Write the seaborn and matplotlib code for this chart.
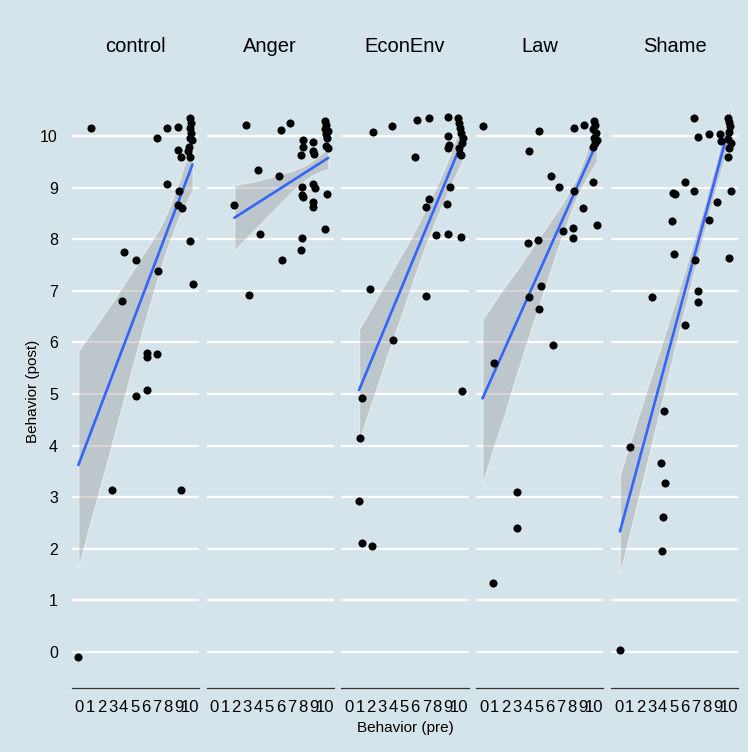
import matplotlib.pyplot as plt
import pandas as pd
import seaborn as sns
from matplotlib.collections import PolyCollection

BG = "#d5e4eb"
sns.set_style("white", {"axes.facecolor": BG, "figure.facecolor": BG,
                        "text.color": "black", "axes.labelcolor": "black",
                        "xtick.color": "black", "ytick.color": "black"})
plt.rcParams["font.family"] = ["Liberation Sans", "DejaVu Sans"]

CONDITIONS = ["control", "Anger", "EconEnv", "Law", "Shame"]

# jittered positions
control_pre = [1.06, 6.99, 7.95, 8.92, 10.04, 10.13, 9.98, 10.13, 9.98, 10.19, 9.89,
               9.83, 9.98, 8.95, 9.16, 7.95, 9.0, 8.95, 9.28, 10.0, 4.07, 5.12, 7.14,
               10.24, 3.86, 6.09, 6.09, 7.05, 6.09, 5.12, 2.93, 9.16, -0.09]
control_post = [10.15, 9.97, 10.15, 10.17, 10.34, 10.25, 10.15, 10.05, 9.97, 9.93, 9.79,
                9.70, 9.60, 9.72, 9.59, 9.07, 8.94, 8.66, 8.61, 7.97, 7.75, 7.60, 7.39,
                7.13, 6.80, 5.79, 5.72, 5.77, 5.08, 4.97, 3.13, 3.13, -0.10]

anger_pre = [2.91, 6.05, 6.89, 10.02, 10.11, 10.02, 10.32, 10.11, 10.23, 10.11, 10.32,
             8.06, 8.91, 8.06, 8.91, 9.06, 7.85, 4.0, 5.84, 7.97, 8.91, 9.12, 10.2, 7.92,
             8.0, 1.83, 8.91, 8.97, 4.15, 10.02, 7.97, 7.85, 6.11, 3.19]
anger_post = [10.21, 10.12, 10.26, 10.30, 10.21, 10.13, 10.10, 10.04, 9.97, 9.81, 9.76,
              9.92, 9.89, 9.79, 9.70, 9.66, 9.63, 9.34, 9.23, 9.02, 9.07, 9.0, 8.87, 8.86,
              8.81, 8.66, 8.73, 8.62, 8.11, 8.20, 8.02, 7.79, 7.60, 6.92]

econenv_pre = [2.16, 3.93, 6.13, 7.25, 8.93, 9.84, 9.96, 10.05, 10.14, 10.29, 10.2, 9.96,
               10.05, 10.14, 8.99, 9.05, 8.99, 6.0, 9.14, 7.25, 6.98, 8.9, 7.88, 8.99,
               10.11, 1.91, 6.98, 4.0, 10.24, 1.16, 1.01, 0.92, 1.16, 2.06]
econenv_post = [10.08, 10.20, 10.31, 10.34, 10.36, 10.34, 10.25, 10.15, 10.05, 9.96, 9.86,
                9.76, 9.66, 9.63, 10.0, 9.83, 9.76, 9.60, 9.02, 8.78, 8.62, 8.68, 8.09,
                8.11, 8.04, 7.03, 6.90, 6.05, 5.06, 4.92, 4.15, 2.93, 2.12, 2.06]

law_pre = [-0.11, 5.04, 8.2, 9.07, 9.98, 10.07, 9.91, 10.16, 9.98, 10.22, 10.07, 9.91,
           4.13, 6.07, 6.84, 8.2, 9.92, 8.96, 10.22, 8.11, 7.15, 8.11, 4.89, 4.04, 5.16,
           4.13, 4.98, 6.25, 0.94, 2.99, 2.99, 0.83]
law_post = [10.19, 10.10, 10.15, 10.21, 10.30, 10.21, 10.13, 10.05, 9.97, 9.92, 9.86, 9.79,
            9.70, 9.22, 9.02, 8.94, 9.11, 8.61, 8.27, 8.22, 8.16, 8.02, 7.98, 7.92, 7.09,
            6.87, 6.65, 5.94, 5.60, 3.09, 2.40, 1.34]

shame_pre = [6.87, 7.17, 8.22, 9.19, 9.28, 9.88, 10.0, 10.09, 10.0, 9.88, 10.18, 10.0,
             9.94, 6.03, 4.97, 5.12, 6.84, 10.18, 8.94, 4.82, 8.22, 5.06, 6.94, 10.01,
             7.23, 3.02, 7.23, 6.05, 4.13, 1.06, 3.86, 4.22, 4.01, 3.92, 0.13]
shame_post = [10.34, 9.99, 10.03, 10.03, 9.91, 10.34, 10.28, 10.19, 10.08, 9.94, 9.86, 9.76,
              9.59, 9.11, 8.89, 8.88, 8.94, 8.94, 8.73, 8.35, 8.37, 7.71, 7.60, 7.63, 7.0,
              6.87, 6.79, 6.33, 4.66, 3.97, 3.66, 3.27, 2.62, 1.96, 0.03]

PRE = [control_pre, anger_pre, econenv_pre, law_pre, shame_pre]
POST = [control_post, anger_post, econenv_post, law_post, shame_post]


def build_frame():
    frames = []
    for cond, pre, post in zip(CONDITIONS, PRE, POST):
        frames.append(pd.DataFrame({"cond": cond, "pre": pre, "post": post}))
    return pd.concat(frames, ignore_index=True)


def main():
    df = build_frame()

    # bootstrap band is wider than the analytic one in the source, so a lower level
    g = sns.lmplot(
        data=df, x="pre", y="post", col="cond", col_order=CONDITIONS,
        height=6, aspect=0.2, ci=73, n_boot=1000, seed=3,
        scatter_kws={"color": "black", "s": 34, "linewidths": 0, "alpha": 1, "zorder": 4},
        line_kws={"color": "#3366ff", "lw": 1.9, "zorder": 3},
    )

    g.figure.set_size_inches(7.48, 7.52)
    g.figure.subplots_adjust(left=0.0959, right=0.9870, bottom=0.0851, top=0.874, wspace=0.058)

    g.set(xlim=(-0.69, 10.84), ylim=(-0.7, 10.8), xticks=range(11), yticks=range(11))
    g.set_titles("{col_name}", size=14.5, pad=31, color="black")
    g.set_axis_labels("", "")

    for ax in g.axes.flat:
        for coll in ax.collections:
            if isinstance(coll, PolyCollection):
                coll.set_facecolor("#999999")
                coll.set_alpha(0.4)
                coll.set_zorder(2)
        ax.grid(axis="y", color="white", lw=1.6)
        ax.set_axisbelow(True)
        sns.despine(ax=ax, left=True)
        ax.spines["bottom"].set_color("#333333")
        ax.spines["bottom"].set_linewidth(0.9)
        ax.tick_params(axis="x", direction="in", length=6, width=0.9, color="#333333",
                       labelcolor="black", pad=8.5, labelsize=12)
        ax.tick_params(axis="y", length=0, pad=10, labelsize=11.5, labelcolor="black")

    g.axes.flat[0].set_ylabel("Behavior (post)", size=11, labelpad=0, color="black")
    g.figure.text(0.5414, 0.0320, "Behavior (pre)", ha="center", va="center", size=11,
                  color="black")

    g.figure.savefig("out.png", dpi=100, facecolor=BG)
    plt.close(g.figure)


if __name__ == "__main__":
    main()
